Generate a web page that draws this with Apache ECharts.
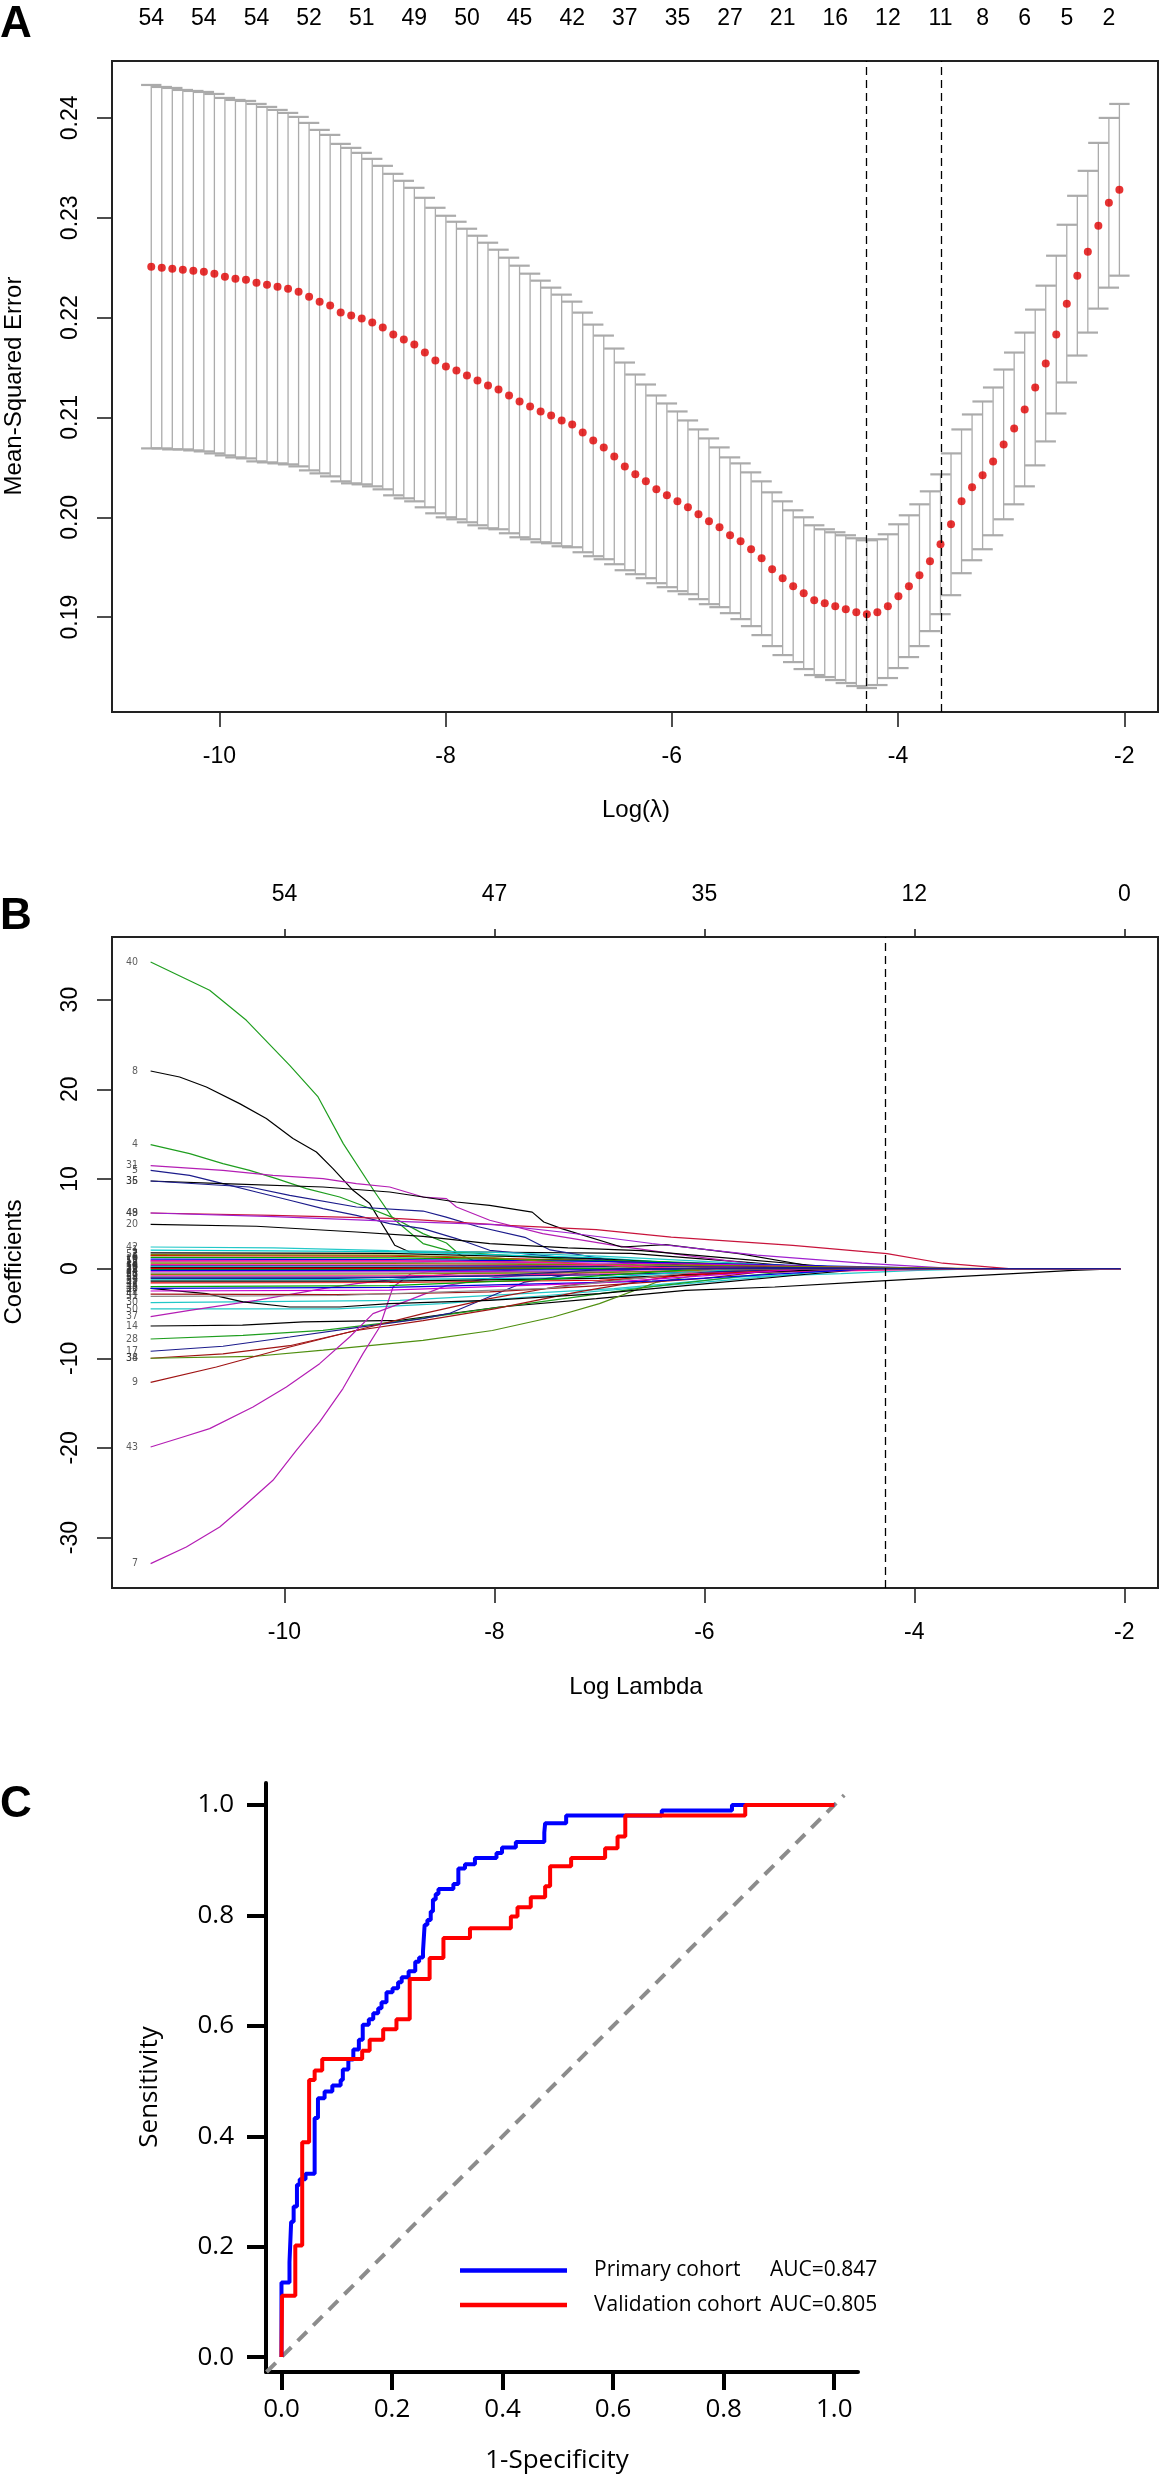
<!DOCTYPE html>
<html>
<head>
  <meta charset="utf-8">
  <title>LASSO selection and ROC</title>
  <script src="https://cdn.jsdelivr.net/npm/echarts@6/dist/echarts.min.js"></script>
  <style>
    html, body { margin: 0; padding: 0; background: #fff; }
    #fig { width: 1160px; height: 2479px; }
  </style>
</head>
<body>
  <div id="fig"></div>
  <script>
    // ---------- panel A : cross-validated MSE ----------
    const logLambdaStartA = -10.602;   // log(lambda) of the first CV point
    const logLambdaStepA = 0.09303;    // glmnet grid spacing in log(lambda)
    const mseMean = [
      0.2251, 0.2250, 0.2249, 0.2248, 0.2247, 0.2246, 0.2244, 0.2241, 0.2239, 0.2238,
      0.2235, 0.2233, 0.2231, 0.2229, 0.2226, 0.2221, 0.2216, 0.2212, 0.2205, 0.2202,
      0.2199, 0.2195, 0.2190, 0.2183, 0.2178, 0.2173, 0.2165, 0.2157, 0.2151, 0.2147,
      0.2142, 0.2137, 0.2132, 0.2128, 0.2122, 0.2116, 0.2111, 0.2106, 0.2102, 0.2097,
      0.2093, 0.2085, 0.2077, 0.2070, 0.2061, 0.2051, 0.2043, 0.2036, 0.2028, 0.2022,
      0.2016, 0.2010, 0.2003, 0.1996, 0.1990, 0.1982, 0.1976, 0.1968, 0.1959, 0.1948,
      0.1939, 0.1931, 0.1924, 0.1917, 0.1914, 0.1911, 0.1908, 0.1905, 0.1903, 0.1905,
      0.1911, 0.1921, 0.1931, 0.1942, 0.1956, 0.1973, 0.1993, 0.2016, 0.2030, 0.2042,
      0.2056, 0.2073, 0.2089, 0.2108, 0.2130, 0.2154, 0.2183, 0.2214, 0.2242, 0.2266,
      0.2292, 0.2315, 0.2328
    ];
    const mseSE = [
      0.0182, 0.0181, 0.0181, 0.0180, 0.0180, 0.0180, 0.0180, 0.0179, 0.0179, 0.0179,
      0.0179, 0.0178, 0.0177, 0.0176, 0.0175, 0.0174, 0.0172, 0.0171, 0.0169, 0.0168,
      0.0166, 0.0164, 0.0162, 0.0161, 0.0159, 0.0157, 0.0155, 0.0153, 0.0151, 0.0149,
      0.0147, 0.0145, 0.0143, 0.0140, 0.0138, 0.0136, 0.0133, 0.0131, 0.0128, 0.0126,
      0.0123, 0.0120, 0.0116, 0.0112, 0.0108, 0.0104, 0.0100, 0.0097, 0.0094, 0.0092,
      0.0090, 0.0087, 0.0085, 0.0083, 0.0080, 0.0078, 0.0078, 0.0077, 0.0077, 0.0077,
      0.0077, 0.0076, 0.0076, 0.0075, 0.0074, 0.0074, 0.0074, 0.0074, 0.0074, 0.0073,
      0.0072, 0.0072, 0.0071, 0.0071, 0.0070, 0.0070, 0.0071, 0.0072, 0.0073, 0.0074,
      0.0074, 0.0075, 0.0076, 0.0077, 0.0078, 0.0078, 0.0079, 0.0079, 0.0080, 0.0081,
      0.0083, 0.0085, 0.0086
    ];
    const topLabelIdxA = [0, 5, 10, 15, 20, 25, 30, 35, 40, 45, 50, 55, 60, 65, 70, 75, 79, 83, 87, 91];
    const topLabelNzA = [54, 54, 54, 52, 51, 49, 50, 45, 42, 37, 35, 27, 21, 16, 12, 11, 8, 6, 5, 2];
    const lambdaMinIdx = 68;
    const lambda1seIdx = 75;
    const xTicksA = [-10, -8, -6, -4, -2];
    const yTicksA = [0.19, 0.20, 0.21, 0.22, 0.23, 0.24];

    // ---------- panel B : coefficient paths ----------
    const lambdaMaxLogB = -2.035;   // all coefficients are zero from here on
    const lambdaMinLogB = -4.277;
    const pathIds = [40, 8, 4, 31, 5, 35, 36, 48, 49, 20, 42,
      30, 50, 37, 14, 28, 17, 38, 34, 9, 43, 7, 32, 44,
      1, 2, 3, 6, 10, 11, 12, 13, 15, 16, 18, 19, 21, 22, 23, 24, 25, 26, 27, 29,
      33, 39, 41, 45, 46, 47, 51, 52, 53, 54];
    const pathKnots = [
      [[-11.275, 34.19], [-10.713, 31.04], [-10.363, 27.69], [-9.95, 22.67], [-9.68, 19.14], [-9.44, 13.94], [-9.14, 8.54], [-8.966, 5.58], [-8.68, 2.79], [-8.4, 1.9], [-8.2, 0.9], [-7.0, 0.4], [-5.5, 0.1], [-4.8, 0]],
      [[-11.275, 22.04], [-10.999, 21.37], [-10.744, 20.25], [-10.427, 18.4], [-10.173, 16.73], [-9.919, 14.5], [-9.696, 13.0], [-9.538, 11.15], [-9.347, 8.73], [-9.188, 7.25], [-9.093, 5.39], [-9.014, 3.9], [-8.95, 2.6], [-8.807, 1.85], [-8.17, 1.85], [-6.7, 1.7], [-5.5, 0.6], [-4.9, 0]],
      [[-11.275, 13.83], [-10.903, 12.82], [-10.586, 11.71], [-10.332, 10.96], [-10.077, 10.04], [-9.791, 8.92], [-9.474, 7.98], [-9.22, 6.87], [-8.966, 5.69], [-8.68, 3.9], [-8.457, 2.86], [-8.36, 1.85], [-7.5, 1.2], [-6.5, 0.5], [-5.8, 0]],
      [[-11.275, 11.49], [-10.586, 10.96], [-10.11, 10.4], [-9.633, 10.04], [-9.315, 9.48], [-8.998, 9.1], [-8.68, 7.98], [-8.457, 7.8], [-8.362, 6.87], [-8.045, 5.39], [-7.54, 3.9], [-6.86, 2.6], [-6.18, 1.48], [-5.6, 0.6], [-5.0, 0]],
      [[-11.275, 10.96], [-10.903, 10.4], [-10.586, 9.48], [-10.268, 8.54], [-9.95, 7.62], [-9.633, 6.69], [-9.315, 5.94], [-8.998, 5.02], [-8.68, 4.46], [-8.362, 3.35], [-8.045, 2.04], [-7.4, 1.3], [-6.5, 0.6], [-5.6, 0]],
      [[-11.275, 9.77], [-10.586, 9.48], [-9.633, 9.1], [-8.998, 8.54], [-8.362, 7.43], [-8.045, 7.06], [-7.64, 6.3], [-7.53, 5.2], [-7.36, 4.46], [-6.79, 2.41], [-6.37, 2.67], [-5.67, 1.67], [-5.03, 0.37], [-4.8, 0]],
      [[-11.275, 9.77], [-10.332, 9.1], [-9.95, 8.17], [-9.315, 6.87], [-8.68, 6.42], [-8.46, 5.74], [-8.153, 4.67], [-7.71, 3.49], [-7.47, 2.08], [-6.96, 1.08], [-6.5, 0]],
      [[-11.275, 6.2], [-10.11, 5.94], [-8.903, 5.58], [-7.882, 4.83], [-7.03, 4.35], [-6.316, 3.52], [-5.158, 2.6], [-4.478, 1.9], [-4.26, 1.67], [-3.73, 0.6], [-3.1, 0]],
      [[-11.275, 6.2], [-10.1, 5.8], [-9.0, 5.3], [-8.0, 4.9], [-7.3, 4.0], [-6.5, 2.8], [-5.5, 1.5], [-4.5, 0.6], [-3.6, 0]],
      [[-11.275, 4.94], [-10.268, 4.72], [-9.315, 4.08], [-8.68, 3.6], [-8.045, 2.79], [-7.3, 2.3], [-6.6, 2.0], [-5.8, 1.2], [-5.0, 0.4], [-4.6, 0]],
      [[-11.275, 2.41], [-10.1, 2.3], [-9.0, 2.0], [-8.0, 1.8], [-7.0, 1.4], [-6.0, 0.8], [-5.0, 0.2], [-4.6, 0]],
      [[-11.275, -3.79], [-8.9, -3.54], [-6.86, -2.23], [-5.63, -0.93], [-4.7, -0.56], [-3.97, -0.19], [-3.3, 0]],
      [[-11.275, -4.5], [-9.5, -4.5], [-8.5, -3.9], [-7.5, -3.0], [-6.5, -2.0], [-5.5, -1.0], [-4.6, 0]],
      [[-11.275, -5.35], [-10.903, -4.65], [-10.268, -3.54], [-9.633, -2.23], [-9.315, -1.67], [-8.8, -1.0], [-8.2, -0.4], [-7.5, 0]],
      [[-11.275, -6.4], [-10.4, -6.3], [-9.82, -5.95], [-8.9, -5.77], [-7.95, -4.28], [-7.03, -3.35], [-6.18, -2.42], [-5.33, -2.05], [-4.48, -1.49], [-3.63, -0.93], [-2.49, -0.19], [-2.04, 0]],
      [[-11.275, -7.85], [-10.395, -7.44], [-9.633, -6.88], [-8.838, -5.77], [-8.045, -4.46], [-7.3, -3.3], [-6.5, -2.0], [-5.6, -0.8], [-4.9, 0]],
      [[-11.275, -9.22], [-10.586, -8.66], [-9.95, -7.63], [-9.315, -6.58], [-8.68, -5.58], [-8.43, -5.0], [-7.71, -1.5], [-7.2, -0.5], [-6.5, 0]],
      [[-11.275, -10.0], [-10.586, -9.5], [-9.95, -8.6], [-9.315, -6.9], [-8.68, -5.8], [-8.0, -4.5], [-7.2, -2.6], [-6.5, -1.2], [-5.8, 0]],
      [[-11.275, -10.0], [-10.3, -9.8], [-9.63, -9.1], [-8.68, -8.0], [-8.02, -6.9], [-7.44, -5.4], [-7.0, -3.9], [-6.45, -1.5], [-6.0, -0.6], [-5.3, 0]],
      [[-11.275, -12.68], [-10.649, -10.97], [-9.95, -8.74], [-9.315, -6.88], [-8.68, -5.02], [-8.045, -3.35], [-7.4, -2.0], [-6.8, -1.2], [-6.0, -0.5], [-5.3, 0]],
      [[-11.275, -19.9], [-10.967, -18.78], [-10.713, -17.85], [-10.3, -15.43], [-9.982, -13.2], [-9.665, -10.6], [-9.379, -7.63], [-9.157, -5.02], [-8.9, -3.9], [-8.46, -1.9], [-8.0, -1.0], [-7.3, -0.4], [-6.5, 0]],
      [[-11.275, -32.9], [-10.935, -31.05], [-10.617, -28.82], [-10.395, -26.59], [-10.11, -23.61], [-9.887, -20.26], [-9.665, -17.1], [-9.443, -13.38], [-9.252, -9.48], [-9.093, -6.51], [-8.966, -2.05], [-8.8, -0.6], [-8.5, -0.2], [-7.5, 0]],
      [[-11.275, -2.2], [-10.744, -2.79], [-10.395, -3.72], [-9.95, -4.28], [-9.474, -4.28], [-8.998, -3.9], [-8.045, -3.54], [-7.0, -2.8], [-6.0, -1.7], [-5.0, -0.6], [-4.4, 0]],
      [[-11.275, -2.85], [-9.5, -2.9], [-8.68, -2.75], [-8.045, -2.6], [-7.0, -1.9], [-6.0, -1.1], [-5.2, 0]],
      [[-11.275, 2.05], [-9, 1.9], [-7, 1.2], [-5.4, 0]],
      [[-11.275, 1.75], [-9, 1.7], [-7, 1.1], [-5.2, 0]],
      [[-11.275, 1.45], [-9, 1.4], [-7, 0.9], [-4.9, 0]],
      [[-11.275, 1.25], [-9, 1.2], [-6.5, 0.8], [-4.4, 0]],
      [[-11.275, 1.05], [-9, 1.0], [-7, 0.8], [-3.6, 0]],
      [[-11.275, 0.9], [-9, 0.85], [-6, 0.5], [-4.0, 0]],
      [[-11.275, 0.75], [-9, 0.7], [-7, 0.5], [-5.0, 0]],
      [[-11.275, 0.6], [-9, 0.55], [-6, 0.35], [-3.3, 0]],
      [[-11.275, 0.45], [-9, 0.4], [-7, 0.3], [-4.6, 0]],
      [[-11.275, 0.3], [-9, 0.3], [-6, 0.2], [-3.9, 0]],
      [[-11.275, 0.2], [-9, 0.15], [-7.5, 0.1], [-6.0, 0]],
      [[-11.275, 0.1], [-9, 0.1], [-8, 0.05], [-7.0, 0]],
      [[-11.275, 0.02], [-8, 0.05], [-5.5, 0]],
      [[-11.275, -0.1], [-9, -0.1], [-7.2, 0]],
      [[-11.275, -0.2], [-9, -0.2], [-6.5, -0.1], [-5.0, 0]],
      [[-11.275, -0.35], [-9, -0.35], [-6, -0.25], [-3.7, 0]],
      [[-11.275, -0.5], [-9, -0.5], [-6.5, -0.3], [-4.5, 0]],
      [[-11.275, -0.65], [-9, -0.6], [-7, -0.45], [-5.2, 0]],
      [[-11.275, -0.8], [-9, -0.8], [-6, -0.5], [-3.4, 0]],
      [[-11.275, -0.95], [-9, -0.95], [-7, -0.7], [-4.8, 0]],
      [[-11.275, -1.25], [-9, -1.2], [-7, -1.0], [-5.6, 0]],
      [[-11.275, -1.4], [-9, -1.4], [-7, -1.1], [-4.6, 0]],
      [[-11.275, -1.6], [-9, -1.55], [-7, -1.3], [-5.0, 0]],
      [[-11.275, -2.0], [-9, -1.9], [-7.5, -1.2], [-6.0, 0]],
      [[-11.275, -2.2], [-9, -2.1], [-6.5, -1.4], [-4.4, 0]],
      [[-11.275, -2.5], [-9, -2.4], [-7, -1.6], [-5.0, 0]],
      [[-11.275, -3.1], [-9.5, -3.0], [-7.5, -2.2], [-5.8, 0]],
      [[-11.275, 1.55], [-9, 1.5], [-8, 1.2], [-6.5, 0]],
      [[-11.275, 0.85], [-9, 0.9], [-7.5, 0.7], [-6.2, 0]],
      [[-11.275, -1.1], [-9.5, -1.1], [-8, -0.8], [-6.8, 0]]
    ];
    const xTicksB = [-10, -8, -6, -4, -2];
    const topNzB = [54, 47, 35, 12, 0];
    const yTicksB = [-30, -20, -10, 0, 10, 20, 30];

    // ---------- panel C : ROC ----------
    const rocPrimary = [[0, 0], [0, 0.135], [0.0145, 0.172], [0.0175, 0.245], [0.022, 0.273], [0.028, 0.312],
      [0.033, 0.322], [0.0435, 0.332], [0.060, 0.433], [0.066, 0.469], [0.078, 0.481], [0.092, 0.492],
      [0.107, 0.502], [0.111, 0.521], [0.121, 0.539], [0.130, 0.557], [0.140, 0.575], [0.147, 0.602],
      [0.158, 0.612], [0.166, 0.623], [0.175, 0.632], [0.181, 0.643], [0.190, 0.661], [0.201, 0.668],
      [0.211, 0.679], [0.2175, 0.688], [0.230, 0.699], [0.242, 0.716], [0.249, 0.724], [0.256, 0.735],
      [0.259, 0.783], [0.264, 0.792], [0.270, 0.807], [0.274, 0.829], [0.279, 0.839], [0.284, 0.848],
      [0.311, 0.857], [0.320, 0.885], [0.332, 0.893], [0.350, 0.904], [0.389, 0.913], [0.399, 0.923],
      [0.424, 0.933], [0.4755, 0.950], [0.477, 0.967], [0.515, 0.981], [0.688, 0.990], [0.815, 1.0], [1.0, 1.0]];
    const rocValidation = [[0, 0], [0.001, 0.111], [0.025, 0.202], [0.0375, 0.389], [0.050, 0.502],
      [0.060, 0.519], [0.0737, 0.540], [0.146, 0.555], [0.1595, 0.575], [0.184, 0.594], [0.208, 0.612],
      [0.232, 0.685], [0.268, 0.723], [0.293, 0.759], [0.341, 0.777], [0.415, 0.798], [0.427, 0.815],
      [0.451, 0.833], [0.477, 0.853], [0.486, 0.889], [0.524, 0.904], [0.5855, 0.922], [0.608, 0.943],
      [0.622, 0.981], [0.839, 1.0], [1.0, 1.0]];
    const chanceLine = [[-0.027, -0.027], [1.018, 1.018]];
    const aucPrimary = 0.847;
    const aucValidation = 0.805;
    const ticksC = [0, 0.2, 0.4, 0.6, 0.8, 1.0];

    // ---------- derived ----------
    const logLambda = mseMean.map((_, i) => logLambdaStartA + i * logLambdaStepA);
    const topPosA = topLabelIdxA.map(i => logLambda[i]);
    const errData = logLambda.map((x, i) => [x, mseMean[i] - mseSE[i], mseMean[i] + mseSE[i]]);
    const dotData = logLambda.map((x, i) => [x, mseMean[i]]);

    const R_FONT = '"Liberation Sans", Arial, sans-serif';
    const NARROW = '"Liberation Sans Narrow", "DejaVu Sans Condensed", "Liberation Sans", sans-serif';
    const C_FONT = '"Open Sans", "Noto Sans", sans-serif';
    const CAP_HALF = 0.09;

    const nearZeroPalette = ['#00cccc', '#000000', '#e00000', '#00a800', '#0000e0', '#cc00cc', '#8a8a8a', '#808000', '#ff1493', '#1c1c8c'];
    const mainColours = ['#1f9e1f', '#000000', '#1f9e1f', '#b41eb4', '#1c1c8c', '#000000', '#1c1c8c', '#c8143c', '#a020d0', '#000000', '#22c8c8',
      '#22c8c8', '#22c8c8', '#b41eb4', '#000000', '#1f9e1f', '#1c1c8c', '#a01414', '#4f8f10', '#a01414', '#b41eb4', '#b41eb4', '#000000', '#a01414'];
    const pathColours = pathIds.map((_, k) => k < mainColours.length ? mainColours[k] : nearZeroPalette[(k - mainColours.length) % nearZeroPalette.length]);

    function nearestLabel(v, positions, labels) {
      for (let k = 0; k < positions.length; k++) {
        if (Math.abs(v - positions[k]) < 1e-6) return String(labels[k]);
      }
      return '';
    }

    const tickStyleR = { show: true, inside: false, length: 15, lineStyle: { color: '#222', width: 1.6 } };

    const chart = echarts.init(document.getElementById('fig'), null, { renderer: 'canvas' });

    const pathSeries = pathKnots.map((knots, k) => {
      const pts = knots.slice();
      if (pts[pts.length - 1][0] < lambdaMaxLogB) pts.push([lambdaMaxLogB, 0]);
      return {
        type: 'line', xAxisIndex: 2, yAxisIndex: 1, data: pts,
        symbol: 'none', silent: true, z: 2,
        lineStyle: { color: pathColours[k], width: 1.2 }
      };
    });

    const option = {
      animation: false,
      backgroundColor: '#fff',
      textStyle: { fontFamily: R_FONT },
      grid: [
        { left: 112, top: 61, width: 1046, height: 651, show: true, borderColor: '#222', borderWidth: 2, backgroundColor: 'transparent' },
        { left: 112, top: 937, width: 1046, height: 651, show: true, borderColor: '#222', borderWidth: 2, backgroundColor: 'transparent' },
        { left: 266, top: 1783, width: 592, height: 589, show: false }
      ],
      xAxis: [
        { // A bottom
          type: 'value', gridIndex: 0, min: -10.949, max: -1.702, position: 'bottom',
          axisLine: { show: false, onZero: false }, splitLine: { show: false },
          axisTick: Object.assign({ customValues: xTicksA }, tickStyleR),
          axisLabel: { customValues: xTicksA, fontSize: 23, color: '#000', margin: 33, fontFamily: R_FONT }
        },
        { // A top: number of non-zero coefficients
          type: 'value', gridIndex: 0, min: -10.949, max: -1.702, position: 'top',
          axisLine: { show: false, onZero: false }, splitLine: { show: false },
          axisTick: { show: false },
          axisLabel: {
            customValues: topPosA, fontSize: 23, color: '#000', margin: 31, fontFamily: R_FONT,
            formatter: v => nearestLabel(v, topPosA, topLabelNzA)
          }
        },
        { // B bottom
          type: 'value', gridIndex: 1, min: -11.643, max: -1.679, position: 'bottom',
          axisLine: { show: false, onZero: false }, splitLine: { show: false },
          axisTick: Object.assign({ customValues: xTicksB }, tickStyleR),
          axisLabel: { customValues: xTicksB, fontSize: 23, color: '#000', margin: 33, fontFamily: R_FONT }
        },
        { // B top
          type: 'value', gridIndex: 1, min: -11.643, max: -1.679, position: 'top',
          axisLine: { show: false, onZero: false }, splitLine: { show: false },
          axisTick: { show: true, inside: false, length: 8, customValues: xTicksB, lineStyle: { color: '#222', width: 1.6 } },
          axisLabel: {
            customValues: xTicksB, fontSize: 23, color: '#000', margin: 31, fontFamily: R_FONT,
            formatter: v => nearestLabel(v, xTicksB, topNzB)
          }
        },
        { // C
          type: 'value', gridIndex: 2, min: -0.028, max: 1.043, position: 'bottom',
          axisLine: { show: true, onZero: false, lineStyle: { color: '#000', width: 4 } },
          splitLine: { show: false },
          axisTick: { show: true, inside: false, length: 18, customValues: ticksC, lineStyle: { color: '#000', width: 4 } },
          axisLabel: { customValues: ticksC, fontSize: 26, color: '#000', margin: 25, fontFamily: C_FONT, formatter: v => v.toFixed(1) }
        }
      ],
      yAxis: [
        { // A
          type: 'value', gridIndex: 0, min: 0.1805, max: 0.2457,
          axisLine: { show: false, onZero: false }, splitLine: { show: false },
          axisTick: Object.assign({ customValues: yTicksA }, tickStyleR),
          axisLabel: { customValues: yTicksA, rotate: 90, fontSize: 23, color: '#000', margin: 30, fontFamily: R_FONT, formatter: v => v.toFixed(2) }
        },
        { // B
          type: 'value', gridIndex: 1, min: -35.62, max: 36.98,
          axisLine: { show: false, onZero: false }, splitLine: { show: false },
          axisTick: Object.assign({ customValues: yTicksB }, tickStyleR),
          axisLabel: { customValues: yTicksB, rotate: 90, fontSize: 23, color: '#000', margin: 30, fontFamily: R_FONT }
        },
        { // C
          type: 'value', gridIndex: 2, min: -0.027, max: 1.04,
          axisLine: { show: true, onZero: false, lineStyle: { color: '#000', width: 4 } },
          splitLine: { show: false },
          axisTick: { show: true, inside: false, length: 19, customValues: ticksC, lineStyle: { color: '#000', width: 4 } },
          axisLabel: { customValues: ticksC, fontSize: 26, color: '#000', margin: 32, fontFamily: C_FONT, formatter: v => v.toFixed(1) }
        }
      ],
      legend: {
        data: ['Primary cohort', 'Validation cohort'],
        orient: 'vertical', left: 455, top: 2255, itemGap: 13.5,
        itemWidth: 107, itemHeight: 4.5, icon: 'rect', selectedMode: false,
        formatter: name => name === 'Primary cohort'
          ? '{gap| }{name|Primary cohort}{auc|AUC=' + aucPrimary.toFixed(3) + '}'
          : '{gap| }{name|Validation cohort}{auc|AUC=' + aucValidation.toFixed(3) + '}',
        textStyle: {
          fontFamily: C_FONT, fontSize: 21, color: '#000',
          rich: {
            gap: { width: 22, lineHeight: 24, fontSize: 21 },
            name: { width: 176, lineHeight: 24, fontSize: 21, fontFamily: C_FONT, color: '#000' },
            auc: { lineHeight: 24, fontSize: 21, fontFamily: C_FONT, color: '#000' }
          }
        }
      },
      graphic: [
        { type: 'text', x: 0, y: 3, style: { text: 'A', font: 'bold 44px ' + R_FONT, fill: '#000', align: 'left', verticalAlign: 'top' } },
        { type: 'text', x: 0, y: 895, style: { text: 'B', font: 'bold 44px ' + R_FONT, fill: '#000', align: 'left', verticalAlign: 'top' } },
        { type: 'text', x: 0, y: 1783, style: { text: 'C', font: 'bold 44px ' + R_FONT, fill: '#000', align: 'left', verticalAlign: 'top' } },
        { type: 'text', x: 14, y: 386, rotation: Math.PI / 2, style: { text: 'Mean-Squared Error', font: '24px ' + R_FONT, fill: '#000', align: 'center', verticalAlign: 'middle' } },
        { type: 'text', x: 636, y: 810, style: { text: 'Log(\u03bb)', font: '24px ' + R_FONT, fill: '#000', align: 'center', verticalAlign: 'middle' } },
        { type: 'text', x: 14, y: 1262, rotation: Math.PI / 2, style: { text: 'Coefficients', font: '24px ' + R_FONT, fill: '#000', align: 'center', verticalAlign: 'middle' } },
        { type: 'text', x: 636, y: 1687, style: { text: 'Log Lambda', font: '24px ' + R_FONT, fill: '#000', align: 'center', verticalAlign: 'middle' } },
        { type: 'text', x: 150, y: 2087, rotation: Math.PI / 2, style: { text: 'Sensitivity', font: '26px ' + C_FONT, fill: '#000', align: 'center', verticalAlign: 'middle' } },
        { type: 'text', x: 557, y: 2461, style: { text: '1-Specificity', font: '26px ' + C_FONT, fill: '#000', align: 'center', verticalAlign: 'middle' } }
      ],
      series: [
        // ---- A
        {
          type: 'custom', xAxisIndex: 0, yAxisIndex: 0, data: errData, silent: true, z: 2,
          renderItem: (params, api) => {
            const x = api.value(0);
            const top = api.coord([x, api.value(2)]);
            const bot = api.coord([x, api.value(1)]);
            const l = api.coord([x - CAP_HALF, api.value(2)])[0];
            const r = api.coord([x + CAP_HALF, api.value(2)])[0];
            const st = { stroke: '#ababab', lineWidth: 1.3 };
            const cap = { stroke: '#ababab', lineWidth: 2.2 };
            return {
              type: 'group', children: [
                { type: 'line', shape: { x1: top[0], y1: top[1], x2: bot[0], y2: bot[1] }, style: st },
                { type: 'line', shape: { x1: l, y1: top[1], x2: r, y2: top[1] }, style: cap },
                { type: 'line', shape: { x1: l, y1: bot[1], x2: r, y2: bot[1] }, style: cap }
              ]
            };
          }
        },
        {
          type: 'scatter', xAxisIndex: 0, yAxisIndex: 0, data: dotData, symbolSize: 8, silent: true, z: 3,
          itemStyle: { color: '#e00000' },
          markLine: {
            silent: true, symbol: ['none', 'none'], label: { show: false },
            lineStyle: { color: '#000', width: 1.3, type: [8, 5] },
            data: [{ xAxis: logLambda[lambdaMinIdx] }, { xAxis: logLambda[lambda1seIdx] }]
          }
        },
        // ---- B
        ...pathSeries,
        {
          type: 'scatter', xAxisIndex: 2, yAxisIndex: 1, silent: true, z: 3, symbolSize: 1,
          data: pathKnots.map((knots, k) => [knots[0][0], knots[0][1], pathIds[k]]),
          itemStyle: { color: 'rgba(0,0,0,0)' },
          label: {
            show: true, position: 'left', distance: 12, formatter: p => p.value[2],
            fontSize: 10.5, color: '#333', fontFamily: NARROW
          },
          markLine: {
            silent: true, symbol: ['none', 'none'], label: { show: false },
            lineStyle: { color: '#000', width: 1.3, type: [8, 5] },
            data: [{ xAxis: lambdaMinLogB }]
          }
        },
        // ---- C
        {
          type: 'line', xAxisIndex: 4, yAxisIndex: 2, data: chanceLine, symbol: 'none', silent: true, z: 2,
          lineStyle: { color: '#8c8c8c', width: 4, type: [13, 9] }
        },
        {
          name: 'Primary cohort', type: 'line', xAxisIndex: 4, yAxisIndex: 2, data: rocPrimary, step: 'end',
          symbol: 'none', silent: true, z: 3, color: '#0000ff',
          lineStyle: { color: '#0000ff', width: 4 }
        },
        {
          name: 'Validation cohort', type: 'line', xAxisIndex: 4, yAxisIndex: 2, data: rocValidation, step: 'end',
          symbol: 'none', silent: true, z: 4, color: '#ff0000',
          lineStyle: { color: '#ff0000', width: 4 }
        }
      ]
    };

    chart.setOption(option);
  </script>
</body>
</html>
